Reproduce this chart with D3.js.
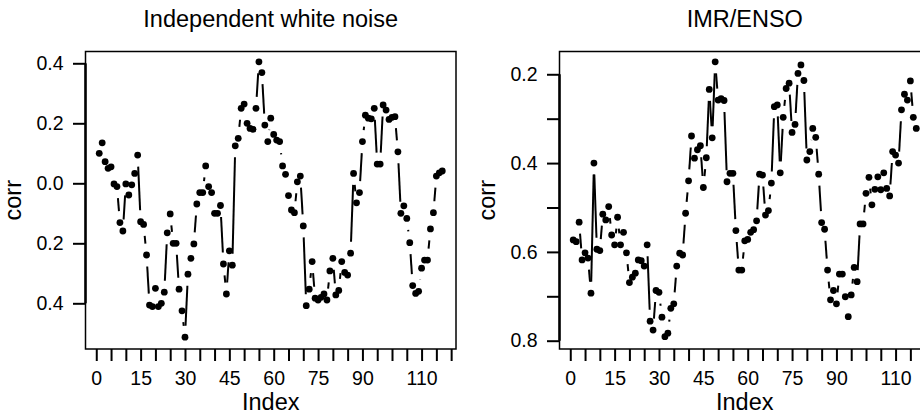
<!DOCTYPE html>
<html lang="en">
<head>
<meta charset="utf-8">
<title>corr by Index</title>
<script src="https://d3js.org/d3.v7.min.js"></script>
<style>
  body { margin: 0; background: #fff; }
  svg { display: block; font-family: 'Liberation Sans', Arial, Helvetica, sans-serif; }
  text { fill: #000; }
  .title { font-size: 23.5px; }
  .label { font-size: 23.5px; }
  .tick text { font-size: 19.5px; }
  .tick line { stroke: #000; stroke-width: 2; }
</style>
</head>
<body>
<svg width="920" height="418"></svg>
<script>
// values, index 1..117
const whiteNoise = [
  0.100, 0.135, 0.072, 0.050, 0.055, -0.002, -0.011, -0.131, -0.159, -0.002,
  -0.039, -0.005, 0.033, 0.094, -0.128, -0.137, -0.239, -0.406, -0.411, -0.350,
  -0.411, -0.400, -0.363, -0.165, -0.102, -0.200, -0.200, -0.353, -0.425, -0.513,
  -0.303, -0.250, -0.202, -0.069, -0.031, -0.031, 0.058, -0.011, -0.031, -0.100,
  -0.100, -0.074, -0.269, -0.369, -0.225, -0.273, 0.125, 0.150, 0.250, 0.264,
  0.200, 0.183, 0.180, 0.250, 0.405, 0.369, 0.194, 0.139, 0.217, 0.163,
  0.144, 0.139, 0.058, 0.030, -0.041, -0.089, -0.098, 0.005, 0.024, -0.142,
  -0.408, -0.353, -0.261, -0.383, -0.389, -0.380, -0.369, -0.389, -0.292, -0.250,
  -0.372, -0.357, -0.261, -0.297, -0.306, -0.233, 0.033, -0.065, -0.031, 0.139,
  0.227, 0.217, 0.215, 0.250, 0.064, 0.064, 0.261, 0.244, 0.213, 0.220,
  0.222, 0.105, -0.100, -0.075, -0.117, -0.198, -0.341, -0.367, -0.360, -0.283,
  -0.256, -0.256, -0.152, -0.098, 0.024, 0.035, 0.041
];

const imrEnso = [
  -0.573, -0.577, -0.533, -0.618, -0.602, -0.614, -0.693, -0.400, -0.594, -0.597,
  -0.515, -0.528, -0.498, -0.562, -0.584, -0.522, -0.584, -0.556, -0.602, -0.669,
  -0.657, -0.648, -0.618, -0.620, -0.632, -0.584, -0.756, -0.776, -0.687, -0.691,
  -0.747, -0.791, -0.783, -0.727, -0.717, -0.632, -0.603, -0.607, -0.513, -0.440,
  -0.339, -0.389, -0.370, -0.361, -0.455, -0.388, -0.234, -0.343, -0.172, -0.258,
  -0.255, -0.259, -0.442, -0.423, -0.423, -0.552, -0.641, -0.641, -0.575, -0.572,
  -0.556, -0.550, -0.530, -0.425, -0.427, -0.517, -0.507, -0.445, -0.273, -0.269,
  -0.422, -0.297, -0.232, -0.220, -0.331, -0.313, -0.198, -0.179, -0.214, -0.393,
  -0.374, -0.322, -0.342, -0.425, -0.534, -0.549, -0.641, -0.708, -0.687, -0.717,
  -0.650, -0.650, -0.701, -0.746, -0.697, -0.635, -0.667, -0.537, -0.537, -0.468,
  -0.432, -0.494, -0.459, -0.431, -0.460, -0.422, -0.457, -0.474, -0.374, -0.382,
  -0.400, -0.280, -0.245, -0.258, -0.215, -0.297, -0.322
];

const xTickValues = [0, 5, 10, 15, 20, 25, 30, 35, 40, 45, 50, 55, 60,
                     65, 70, 75, 80, 85, 90, 95, 100, 105, 110, 115, 120];
const xTickLabels = [0, 15, 30, 45, 60, 75, 90, 110];

const leftYTicks = [0.4, 0.2, 0.0, -0.2, -0.4];
const leftYLabels = ['0.4', '0.2', '0.0', '0.2', '0.4'];

const rightYTicks = [-0.2, -0.3, -0.4, -0.5, -0.6, -0.7, -0.8];
const rightYLabels = ['0.2', '', '0.4', '', '0.6', '', '0.8'];

const svg = d3.select('svg');

const plotTop = 51.5, plotBottom = 349;

function panel(opts) {
  const g = svg.append('g');
  const n = opts.values.length;

  const x = d3.scaleLinear()
    .domain([1 - 0.04 * (n - 1), n + 0.04 * (n - 1)])
    .range([opts.left, opts.right]);

  const y = d3.scaleLinear()
    .domain(opts.yDomain)
    .range([plotBottom, plotTop]);

  const pts = opts.values.map((v, i) => [x(i + 1), y(v)]);

  // box
  g.append('rect')
    .attr('x', opts.left).attr('y', plotTop)
    .attr('width', opts.right - opts.left).attr('height', plotBottom - plotTop)
    .attr('fill', 'none').attr('stroke', '#000').attr('stroke-width', 1.5);

  // x axis (ticks hang under the box)
  const xAxis = g.append('g')
    .attr('transform', `translate(0,${plotBottom})`)
    .call(d3.axisBottom(x)
      .tickValues(xTickValues)
      .tickSize(12)
      .tickPadding(10)
      .tickFormat(d => xTickLabels.includes(d) ? d : ''));
  xAxis.select('.domain').remove();

  // y axis
  const yAxis = g.append('g')
    .attr('transform', `translate(${opts.left},0)`)
    .call(d3.axisLeft(y)
      .tickValues(opts.yTicks)
      .tickSize(12.5)
      .tickPadding(9.5)
      .tickFormat((d, i) => opts.yLabels[i]));
  yAxis.select('.domain').remove();
  yAxis.append('line')
    .attr('x1', 0).attr('x2', 0)
    .attr('y1', y(d3.max(opts.yTicks))).attr('y2', y(d3.min(opts.yTicks)))
    .attr('stroke', '#000').attr('stroke-width', 2.5);
  svg.selectAll('.tick text').attr('fill', '#000');

  // lines with gaps around the points (type = "b")
  const gap = 11.5;
  const segs = [];
  for (let i = 1; i < pts.length; i++) {
    const [x0, y0] = pts[i - 1], [x1, y1] = pts[i];
    const len = Math.hypot(x1 - x0, y1 - y0);
    if (len <= 2 * gap) continue;
    const ux = (x1 - x0) / len, uy = (y1 - y0) / len;
    segs.push([x0 + ux * gap, y0 + uy * gap, x1 - ux * gap, y1 - uy * gap]);
  }
  g.append('g').selectAll('line')
    .data(segs)
    .join('line')
    .attr('x1', d => d[0]).attr('y1', d => d[1])
    .attr('x2', d => d[2]).attr('y2', d => d[3])
    .attr('stroke', '#000').attr('stroke-width', 2);

  g.append('g').selectAll('circle')
    .data(pts)
    .join('circle')
    .attr('cx', d => d[0]).attr('cy', d => d[1])
    .attr('r', 3.4).attr('fill', '#000');

  const mid = (opts.left + opts.right) / 2;
  g.append('text').attr('class', 'title')
    .attr('x', mid).attr('y', 27)
    .attr('text-anchor', 'middle')
    .text(opts.title);

  g.append('text').attr('class', 'label')
    .attr('x', mid).attr('y', 410)
    .attr('text-anchor', 'middle')
    .text('Index');

  g.append('text').attr('class', 'label')
    .attr('transform', `translate(${opts.left - 64.5},${(plotTop + plotBottom) / 2}) rotate(-90)`)
    .attr('text-anchor', 'middle')
    .text('corr');
}

panel({
  values: whiteNoise, left: 85.5, right: 456,
  yDomain: [-0.5523, 0.4393],
  yTicks: leftYTicks, yLabels: leftYLabels,
  title: 'Independent white noise'
});

panel({
  values: imrEnso, left: 559.5, right: 930,
  yDomain: [-0.8187, -0.1487],
  yTicks: rightYTicks, yLabels: rightYLabels,
  title: 'IMR/ENSO'
});
</script>
</body>
</html>
